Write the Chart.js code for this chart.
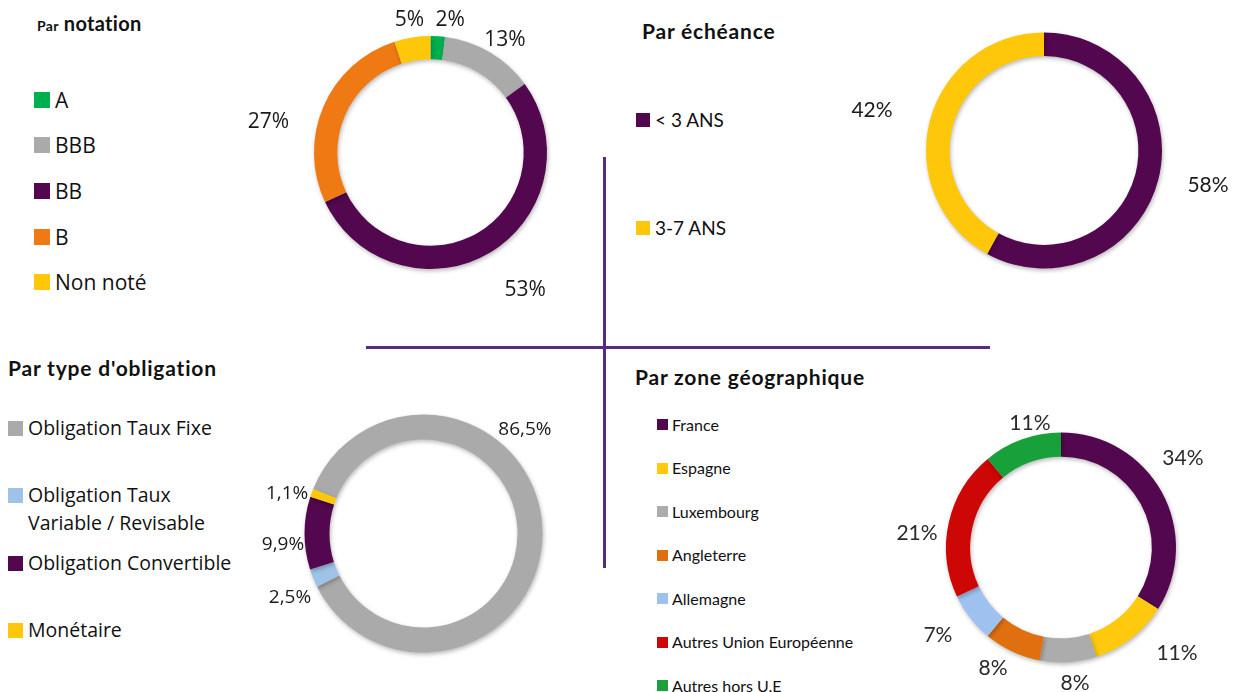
<!DOCTYPE html>
<html>
<head>
<meta charset="utf-8">
<script src="https://cdn.jsdelivr.net/npm/chart.js@4.4.1/dist/chart.umd.min.js"></script>
<style>
  html, body { margin: 0; padding: 0; background: #fff; }
  #page { position: relative; width: 1238px; height: 692px; overflow: hidden; color: #111; }
  canvas { position: absolute; }
  .title { position: absolute; font-family: Lato, sans-serif; font-weight: 700; white-space: nowrap; font-size: 21px; letter-spacing: 0.8px; }
  .item { position: absolute; display: flex; align-items: flex-start; white-space: nowrap; }
  .sq { flex: none; }
  .rule { position: absolute; background: #582a80; }
</style>
</head>
<body>
<div id="page">
  <div class="rule" style="left:603px; top:157px; width:3px; height:411px;"></div>
  <div class="rule" style="left:366px; top:346px; width:624px; height:3px;"></div>

  <div class="title" style="left:37px; top:11px; font-size:20px; letter-spacing:0.3px;"><span style="font-size:14px">Par</span> notation</div>
  <div class="title" style="left:642px; top:18px;">Par échéance</div>
  <div class="title" style="left:8px; top:355px;">Par type d'obligation</div>
  <div class="title" style="left:635px; top:364px;">Par zone géographique</div>

  <canvas id="c1"></canvas>
  <canvas id="c2"></canvas>
  <canvas id="c3"></canvas>
  <canvas id="c4"></canvas>
</div>
<script>
// data
const notationLabels = ["A", "BBB", "BB", "B", "Non noté"];
const notationValues = [2, 13, 53, 27, 5];
const notationColors = ["#00b050", "#aaaaaa", "#52074e", "#ef7a14", "#ffc709"];

const echeanceLabels = ["< 3 ANS", "3-7 ANS"];
const echeanceValues = [58, 42];
const echeanceColors = ["#52074e", "#ffc709"];

const typeLabels = ["Obligation Taux Fixe", "Obligation Taux Variable / Revisable", "Obligation Convertible", "Monétaire"];
const typeValues = [86.5, 2.5, 9.9, 1.1];
const typeColors = ["#aaaaaa", "#9fc3e6", "#52074e", "#ffc709"];

const zoneLabels = ["France", "Espagne", "Luxembourg", "Angleterre", "Allemagne", "Autres Union Européenne", "Autres hors U.E"];
const zoneValues = [34, 11, 8, 8, 7, 21, 11];
const zoneColors = ["#52074e", "#ffc90e", "#acacac", "#e0700f", "#9ec1f0", "#cd0606", "#18a03a"];

const pct = v => String(v).replace(".", ",") + "%";

const ringShadow = {
  id: "ringShadow",
  beforeDatasetsDraw(chart) {
    const ctx = chart.ctx;
    ctx.save();
    ctx.shadowColor = "rgba(0,0,0,0.28)";
    ctx.shadowBlur = 4;
    ctx.shadowOffsetX = 1;
    ctx.shadowOffsetY = 2;
  },
  afterDatasetsDraw(chart) { chart.ctx.restore(); }
};

// % labels placed outside each arc, nudged by angle/gap
const arcLabels = {
  id: "arcLabels",
  afterDatasetsDraw(chart, args, opts) {
    const ctx = chart.ctx;
    const meta = chart.getDatasetMeta(0);
    const vals = chart.data.datasets[0].data;
    ctx.save();
    ctx.font = opts.font;
    ctx.fillStyle = opts.color;
    ctx.textAlign = "center";
    ctx.textBaseline = "middle";
    meta.data.forEach((arc, i) => {
      const p = arc.getProps(["x", "y", "startAngle", "endAngle", "outerRadius"], true);
      const a = (p.startAngle + p.endAngle) / 2 + (opts.shift[i] || 0) * Math.PI / 180;
      const d = p.outerRadius + opts.gap[i];
      ctx.fillText(pct(vals[i]), p.x + Math.cos(a) * d, p.y + Math.sin(a) * d);
    });
    ctx.restore();
  }
};

function donut(id, box, cx, cy, r, cutout, rotation, labels, values, colors, lbl) {
  const cv = document.getElementById(id);
  cv.width = box.w; cv.height = box.h;
  cv.style.left = box.x + "px"; cv.style.top = box.y + "px";
  new Chart(cv, {
    type: "doughnut",
    data: { labels: labels, datasets: [{ data: values, backgroundColor: colors, borderWidth: 0 }] },
    options: {
      responsive: false,
      animation: false,
      events: [],
      rotation: rotation,
      cutout: cutout,
      layout: { padding: {
        left: cx - r - box.x, top: cy - r - box.y,
        right: box.x + box.w - cx - r, bottom: box.y + box.h - cy - r } },
      plugins: { legend: { display: false }, tooltip: { enabled: false }, arcLabels: lbl }
    },
    plugins: [ringShadow, arcLabels]
  });
}

function legend(labels, colors, o) {
  const page = document.getElementById("page");
  labels.forEach((t, i) => {
    const it = document.createElement("div");
    it.className = "item";
    it.style.left = o.x + "px";
    it.style.top = (o.ys[i] - o.lh / 2) + "px";
    it.style.font = o.size + "px " + o.family;
    it.style.lineHeight = o.lh + "px";
    const sq = document.createElement("span");
    sq.className = "sq";
    sq.style.width = o.sq + "px"; sq.style.height = o.sq + "px";
    sq.style.marginTop = ((o.lh - o.sq) / 2) + "px";
    sq.style.marginRight = o.gap + "px";
    sq.style.background = colors[i];
    const tx = document.createElement("span");
    tx.textContent = t;
    if (o.wrap && o.wrap[i]) { tx.style.whiteSpace = "normal"; tx.style.width = o.wrap[i] + "px"; }
    it.appendChild(sq); it.appendChild(tx);
    page.appendChild(it);
  });
}

donut("c1", {x: 230, y: 0, w: 370, h: 330}, 430.5, 152.5, 116.5, "80%", 0,
  notationLabels, notationValues, notationColors,
  { font: "21px 'Open Sans'", color: "#1a1a1a", shift: [4.8, 2.9, -3.9, -12.8, 0], gap: [17.5, 18.5, 50.5, 48.5, 17.5] });

donut("c2", {x: 810, y: 0, w: 428, h: 330}, 1044, 150.5, 118, "80%", 0,
  echeanceLabels, echeanceValues, echeanceColors,
  { font: "21px Lato", color: "#1a1a1a", shift: [-2.5, -1.1], gap: [49.6, 58.7] });

donut("c3", {x: 240, y: 395, w: 360, h: 297}, 423.5, 533.5, 119, "79%", 292,
  typeLabels, typeValues, typeColors,
  { font: "19px 'Open Sans'", color: "#1a1a1a", shift: [-43.3, -3.7, -4.9, -3.9], gap: [26, 29.3, 22, 23] });

donut("c4", {x: 880, y: 395, w: 358, h: 297}, 1061, 547.5, 115, "79%", 0,
  zoneLabels, zoneValues, zoneColors,
  { font: "21px Lato", color: "#2a2a2a", shift: [-7.5, -9.9, -2.3, 4.2, 2.4, -6.9, 5.8], gap: [36.3, 41.8, 21.2, 23.4, 36, 29.7, 13.3] });

legend(notationLabels, notationColors, { x: 34, ys: [99.5, 145, 190.5, 237, 282], size: 21, family: "'Open Sans'", lh: 26, sq: 16, gap: 5 });
legend(echeanceLabels, echeanceColors, { x: 636, ys: [120, 228], size: 19, family: "Lato", lh: 24, sq: 14, gap: 5 });
legend(typeLabels, typeColors, { x: 8, ys: [428, 495, 563, 630], size: 19.5, family: "'Open Sans'", lh: 28, sq: 15, gap: 5, wrap: [0, 200, 0, 0] });
legend(zoneLabels, zoneColors, { x: 657, ys: [424.5, 468, 511.5, 555, 598.5, 642, 685.5], size: 16, family: "Lato", lh: 20, sq: 11, gap: 4 });
</script>
</body>
</html>
